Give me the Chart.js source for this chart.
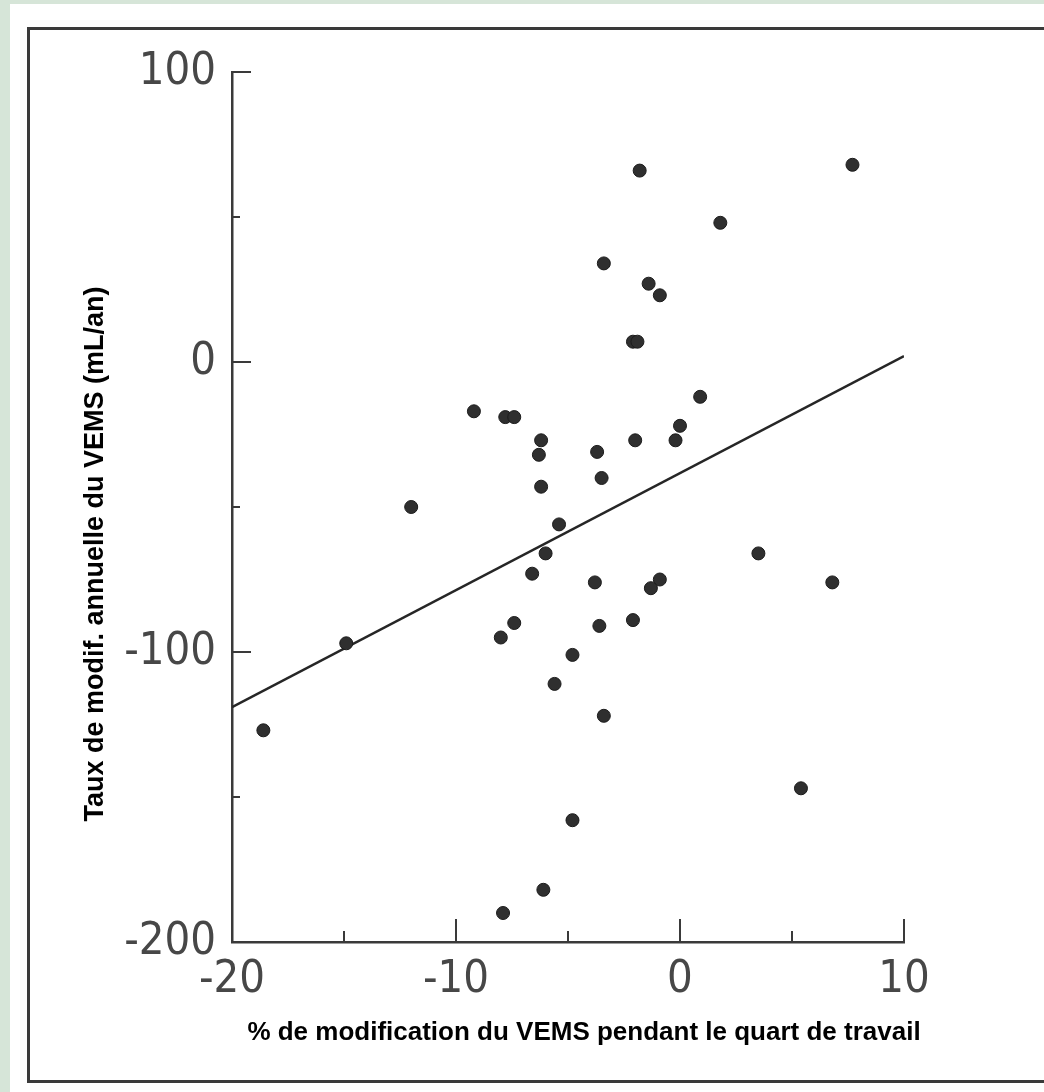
<!DOCTYPE html>
<html>
<head>
<meta charset="utf-8">
<script src="https://cdn.jsdelivr.net/npm/chart.js@4/dist/chart.umd.min.js"></script>
<style>
  html, body { margin: 0; padding: 0; background: #d6e5d8; }
  #vemsChart { display: block; }
</style>
</head>
<body>
<canvas id="vemsChart" width="1044" height="1092"></canvas>
<script>
// % change of FEV1 during the shift (x) vs annual FEV1 change in mL/yr (y)
const xValues = [7.7, -1.8, 1.8, -3.4, -1.4, -0.9, -2.1, -1.9, -9.2, -7.8, -7.4, 0.9, 0, -6.2, -6.3, -3.7, -2.0, -0.2, -3.5, -6.2, -12.0, -5.4, -6.0, -6.6, 3.5, 6.8, -3.8, -0.9, -1.3, -7.4, -8.0, -3.6, -2.1, -14.9, -4.8, -5.6, -3.4, -18.6, -4.8, 5.4, -6.1, -7.9];
const yValues = [68, 66, 48, 34, 27, 23, 7, 7, -17, -19, -19, -12, -22, -27, -32, -31, -27, -27, -40, -43, -50, -56, -66, -73, -66, -76, -76, -75, -78, -90, -95, -91, -89, -97, -101, -111, -122, -127, -158, -147, -182, -190];

// regression line end points
const fitX = [-20, 10];
const fitY = [-119, 2];

const xTickLabels = [-20, -10, 0, 10];
const yTickLabels = [-200, -100, 0, 100];
const xTickMarks = [-15, -10, -5, 0, 5, 10];
const yTickMarks = [-150, -100, -50, 0, 50, 100];

const xTitle = "% de modification du VEMS pendant le quart de travail";
const yTitle = "Taux de modif. annuelle du VEMS (mL/an)";

const tickFont = { family: "'Liberation Sans Narrow', 'DejaVu Sans Condensed', sans-serif", size: 45 };
const tickColor = "#474747";

const pagePlugin = {
  id: "page",
  beforeDraw(chart) {
    const ctx = chart.ctx;
    ctx.save();
    ctx.fillStyle = "#d6e5d8";
    ctx.fillRect(0, 0, chart.width, chart.height);
    ctx.fillStyle = "#ffffff";
    ctx.fillRect(10, 4, chart.width - 10, chart.height - 4);
    ctx.strokeStyle = "#3a3a3a";
    ctx.lineWidth = 3;
    ctx.strokeRect(28.5, 28.5, 1020, 1053);
    ctx.restore();
  },
  afterDraw(chart) {
    const ctx = chart.ctx;
    const xs = chart.scales.x;
    const ys = chart.scales.y;
    const area = chart.chartArea;
    ctx.save();
    // inward tick marks
    ctx.strokeStyle = "#3a3a3a";
    ctx.lineWidth = 2;
    xTickMarks.forEach(v => {
      const px = xs.getPixelForValue(v);
      const len = v % 10 === 0 ? 23 : 11;
      ctx.beginPath();
      ctx.moveTo(px, area.bottom);
      ctx.lineTo(px, area.bottom - len);
      ctx.stroke();
    });
    yTickMarks.forEach(v => {
      const py = ys.getPixelForValue(v);
      const len = v % 100 === 0 ? 19 : 8;
      ctx.beginPath();
      ctx.moveTo(area.left, py);
      ctx.lineTo(area.left + len, py);
      ctx.stroke();
    });
    // axis titles
    ctx.fillStyle = "#000000";
    ctx.textAlign = "center";
    ctx.textBaseline = "alphabetic";
    ctx.font = "bold 26px 'Liberation Sans', Arial, sans-serif";
    ctx.fillText(xTitle, 584, 1040);
    ctx.font = "bold 27px 'Liberation Sans', Arial, sans-serif";
    ctx.translate(103, 554);
    ctx.rotate(-Math.PI / 2);
    ctx.fillText(yTitle, 0, 0);
    ctx.restore();
  }
};

const points = xValues.map((x, i) => ({ x: x, y: yValues[i] }));
const fitLine = fitX.map((x, i) => ({ x: x, y: fitY[i] }));

new Chart("vemsChart", {
  type: "scatter",
  data: {
    datasets: [
      {
        data: points,
        pointRadius: 6.5,
        pointBackgroundColor: "#2f2f2f",
        pointBorderColor: "#1c1c1c",
        pointBorderWidth: 1
      },
      {
        type: "line",
        data: fitLine,
        borderColor: "#262626",
        borderWidth: 2.5,
        pointRadius: 0,
        fill: false
      }
    ]
  },
  options: {
    responsive: false,
    devicePixelRatio: 1,
    animation: false,
    layout: { padding: { left: 0, top: 72, right: 140, bottom: 0 } },
    plugins: {
      legend: { display: false },
      tooltip: { enabled: false }
    },
    scales: {
      x: {
        type: "linear",
        min: -20,
        max: 10,
        afterFit(scale) { scale.height = 150; },
        grid: { display: false, drawTicks: false },
        border: { display: true, color: "#3a3a3a", width: 2.5 },
        ticks: {
          stepSize: 10,
          padding: 11,
          font: tickFont,
          color: tickColor,
          maxRotation: 0,
          callback: v => xTickLabels.includes(v) ? String(v) : ""
        }
      },
      y: {
        type: "linear",
        min: -200,
        max: 100,
        afterFit(scale) { scale.width = 232; },
        grid: { display: false, drawTicks: false },
        border: { display: true, color: "#3a3a3a", width: 2.5 },
        ticks: {
          stepSize: 100,
          padding: 16,
          font: tickFont,
          color: tickColor,
          callback: v => yTickLabels.includes(v) ? String(v) : ""
        }
      }
    }
  },
  plugins: [pagePlugin]
});
</script>
</body>
</html>
